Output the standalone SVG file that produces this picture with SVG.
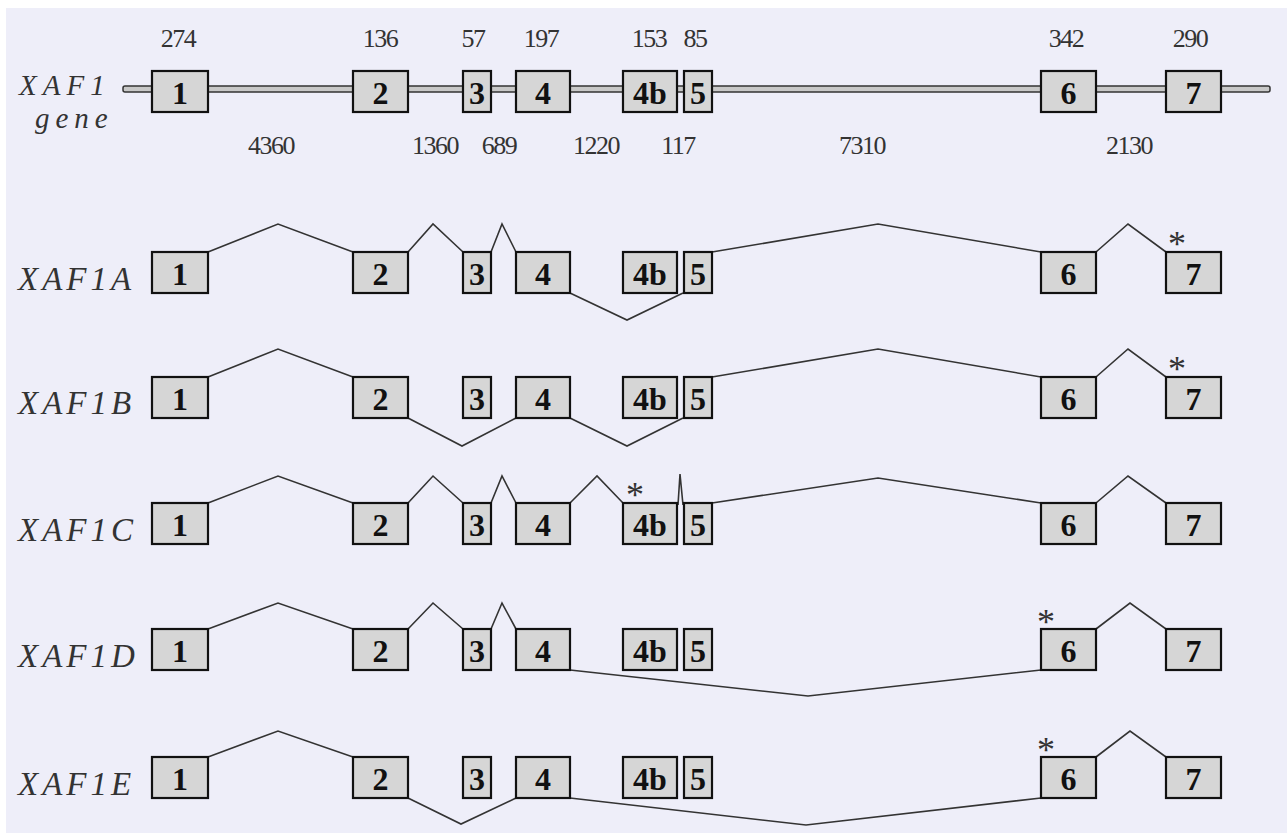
<svg xmlns="http://www.w3.org/2000/svg" width="1287" height="833" viewBox="0 0 1287 833">
<style>
.bg{fill:#EEEEF9}
.ex{fill:#D6D6D6;stroke:#111;stroke-width:2.2}
.en{font-family:"Liberation Serif","Times New Roman",serif;font-weight:bold;font-size:32px;fill:#111;text-anchor:middle}
.num{font-family:"Liberation Serif","Times New Roman",serif;font-size:26px;fill:#333;text-anchor:middle;letter-spacing:-1.5px}
.lab{font-family:"Liberation Serif","Times New Roman",serif;font-style:italic;font-size:33px;fill:#333;letter-spacing:4px}
.glab{font-family:"Liberation Serif","Times New Roman",serif;font-style:italic;font-size:29px;fill:#333;letter-spacing:6px}
.ast{font-family:"Liberation Serif","Times New Roman",serif;font-size:36px;fill:#333;text-anchor:middle}
.sp{fill:none;stroke:#333;stroke-width:1.6;stroke-linejoin:miter}
.tube{fill:#C8C8C8;stroke:#333;stroke-width:1.5}
</style>
<defs>
<g id="exons">
<rect class="ex" x="152" y="0" width="56" height="41"/>
<rect class="ex" x="353" y="0" width="55" height="41"/>
<rect class="ex" x="463" y="0" width="28" height="41"/>
<rect class="ex" x="516" y="0" width="54" height="41"/>
<rect class="ex" x="623" y="0" width="54" height="41"/>
<rect class="ex" x="684" y="0" width="28" height="41"/>
<rect class="ex" x="1041" y="0" width="55" height="41"/>
<rect class="ex" x="1166" y="0" width="55" height="41"/>
<text class="en" x="180" y="33">1</text>
<text class="en" x="380.5" y="33">2</text>
<text class="en" x="477" y="33">3</text>
<text class="en" x="543" y="33">4</text>
<text class="en" x="650" y="33">4b</text>
<text class="en" x="698" y="33">5</text>
<text class="en" x="1068.5" y="33">6</text>
<text class="en" x="1193.5" y="33">7</text>
</g>
</defs>
<rect x="0" y="0" width="1287" height="833" fill="#ffffff"/>
<rect class="bg" x="6" y="8" width="1281" height="825"/>

<g id="gene">
<rect class="tube" x="123" y="86" width="1147" height="6" rx="2"/>
<use href="#exons" y="71"/>
<text class="glab" x="19" y="95">XAF1</text>
<text class="glab" x="35" y="128">gene</text>
<g class="num">
<text x="178" y="47">274</text>
<text x="380" y="47">136</text>
<text x="473" y="47">57</text>
<text x="541" y="47">197</text>
<text x="649" y="47">153</text>
<text x="695" y="47">85</text>
<text x="1066" y="47">342</text>
<text x="1190" y="47">290</text>
<text x="271" y="154">4360</text>
<text x="435" y="154">1360</text>
<text x="499" y="154">689</text>
<text x="596" y="154">1220</text>
<text x="678" y="154">117</text>
<text x="862" y="154">7310</text>
<text x="1129" y="154">2130</text>
</g>
</g>

<g id="connectors">
<path class="sp" d="M208,252 L278,224 L353,252 M408,252 L433,224 L463,252 M491,252 L502,224 L516,252 M570,293 L627,320 L683,293 M712,252 L878,224 L1041,252 M1096,252 L1128,224 L1166,252"/>
<path class="sp" d="M208,377 L278,349 L353,377 M408,418 L462,446 L516,418 M570,418 L627,446 L683,418 M712,377 L878,349 L1041,377 M1096,377 L1128,349 L1166,377"/>
<path class="sp" d="M208,503 L278,476 L353,503 M408,503 L433,476 L463,503 M491,503 L502,476 L516,503 M570,503 L597,476 L623,503 M678,505 L680,474 L683,505 M712,503 L878,478 L1041,503 M1096,503 L1128,476 L1166,503"/>
<path class="sp" d="M208,629 L278,603 L353,629 M408,629 L433,603 L463,629 M491,629 L502,603 L516,629 M570,670 L808,696 L1041,670 M1096,629 L1130,603 L1166,629"/>
<path class="sp" d="M208,757 L278,731 L353,757 M408,798 L461,824 L516,798 M570,798 L806,825 L1041,798 M1096,757 L1130,731 L1166,757"/>
</g>

<g id="XAF1A">
<use href="#exons" y="252"/>
<text class="lab" x="18" y="290">XAF1A</text>
<text class="ast" x="1177" y="256">*</text>
</g>
<g id="XAF1B">
<use href="#exons" y="377"/>
<text class="lab" x="18" y="414">XAF1B</text>
<text class="ast" x="1177" y="381">*</text>
</g>
<g id="XAF1C">
<use href="#exons" y="503"/>
<text class="lab" x="18" y="541">XAF1C</text>
<text class="ast" x="635" y="507">*</text>
</g>
<g id="XAF1D">
<use href="#exons" y="629"/>
<text class="lab" x="18" y="667">XAF1D</text>
<text class="ast" x="1046" y="634">*</text>
</g>
<g id="XAF1E">
<use href="#exons" y="757"/>
<text class="lab" x="18" y="795">XAF1E</text>
<text class="ast" x="1046" y="762">*</text>
</g>
</svg>
